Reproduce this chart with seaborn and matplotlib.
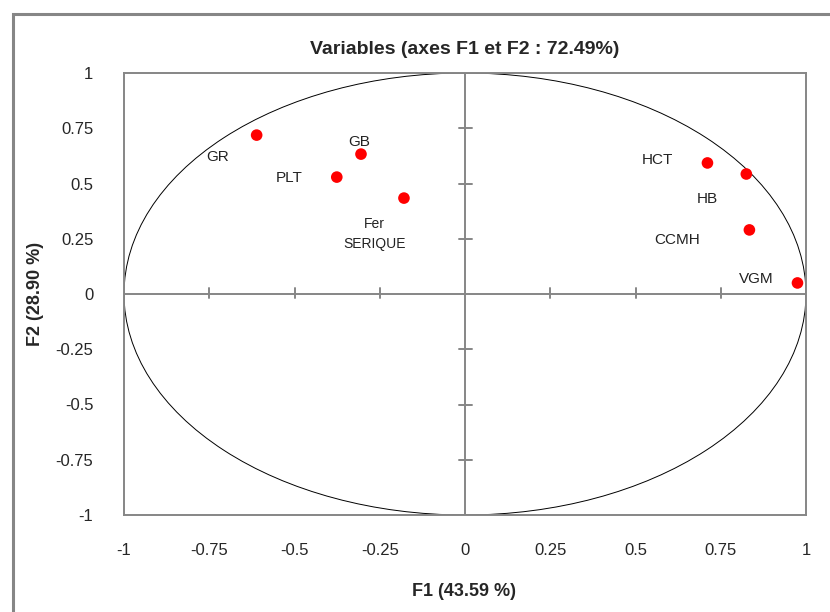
import matplotlib
matplotlib.use("Agg")
import matplotlib.pyplot as plt
from matplotlib.patches import Circle, Rectangle
import seaborn as sns
import pandas as pd
import numpy as np

# ---- data ----
variables = ["GR", "GB", "PLT", "Fer\nSERIQUE", "HCT", "HB", "CCMH", "VGM"]
f1_values = [-0.611, -0.305, -0.376, -0.179, 0.711, 0.825, 0.834, 0.975]
f2_values = [0.719, 0.633, 0.529, 0.434, 0.593, 0.543, 0.290, 0.050]
tick_values = [-1, -0.75, -0.5, -0.25, 0, 0.25, 0.5, 0.75, 1]
tick_labels = ["-1", "-0.75", "-0.5", "-0.25", "0", "0.25", "0.5", "0.75", "1"]
title_text = "Variables (axes F1 et F2 : 72.49%)"
xlabel_text = "F1 (43.59 %)"
ylabel_text = "F2 (28.90 %)"

df = pd.DataFrame({"var": variables, "F1": f1_values, "F2": f2_values})

sns.set_theme(style="white")
plt.rcParams["font.family"] = ["Liberation Sans Narrow", "Liberation Sans", "DejaVu Sans"]

GREY = "#868686"
fig = plt.figure(figsize=(8.30, 6.12), dpi=100)
ax = fig.add_axes([124 / 830, 1 - 515 / 612, 682 / 830, 442 / 612])

# unit circle
ax.add_patch(Circle((0, 0), 1, fill=False, ec="black", lw=0.7, zorder=2))

# center axes lines
ax.axhline(0, color=GREY, lw=1.4, zorder=1)
ax.axvline(0, color=GREY, lw=1.4, zorder=1)
ax.set_xlim(-1, 1)
ax.set_ylim(-1, 1)

# cross tick marks on the centre axes
for t in tick_values:
    if t in (-1, 0, 1):
        continue
    ax.plot([t, t], [-0.018, 0.027], color=GREY, lw=1.4, zorder=1, clip_on=False)
    ax.plot([-0.018, 0.020], [t, t], color=GREY, lw=1.4, zorder=1, clip_on=False)

sns.scatterplot(data=df, x="F1", y="F2", ax=ax, color="#ff0000", s=70,
                edgecolor="none", zorder=3, legend=False)

# labels (offsets in points)
offsets = [(-28, -16), (-1, 9), (-34, -1), (-21, -26), (-36, 2), (-28, -18), (-52, -7), (-30, 3)]
for name, x, y, off in zip(variables, f1_values, f2_values, offsets):
    ax.annotate(name, (x, y), xytext=off, textcoords="offset points",
                ha="center", va="center", fontsize=11 if "\n" not in name else 10,
                color="#222222", linespacing=1.6)

ax.set_xticks(tick_values)
ax.set_yticks(tick_values)
ax.set_xticklabels(tick_labels, fontsize=12)
ax.set_yticklabels(tick_labels, fontsize=12)
ax.tick_params(axis="both", length=0, pad=22)
ax.tick_params(axis="y", pad=22)
ax.tick_params(axis="x", pad=20)
for s in ax.spines.values():
    s.set_color(GREY)
    s.set_linewidth(1.4)

ax.set_xlabel(xlabel_text, fontsize=13, fontweight="bold", labelpad=22)
ax.set_ylabel(ylabel_text, fontsize=13, fontweight="bold", labelpad=22)
ax.set_title(title_text, fontsize=14, fontweight="bold", pad=14)
ax.set_xlabel("")
ax.set_ylabel("")
fig.text(464 / 830, 1 - 592 / 612, xlabel_text, ha="center", va="center",
         fontsize=13, fontweight="bold")
fig.text(35 / 830, 1 - 294 / 612, ylabel_text, ha="center", va="center",
         fontsize=13, fontweight="bold", rotation=90)

# outer chart border
fig.patches.append(Rectangle((13 / 830, -0.1), 1.2, (612 - 14) / 612 + 0.1,
                             transform=fig.transFigure, fill=False, ec=GREY, lw=2.2))

fig.savefig("out.png", dpi=100)
